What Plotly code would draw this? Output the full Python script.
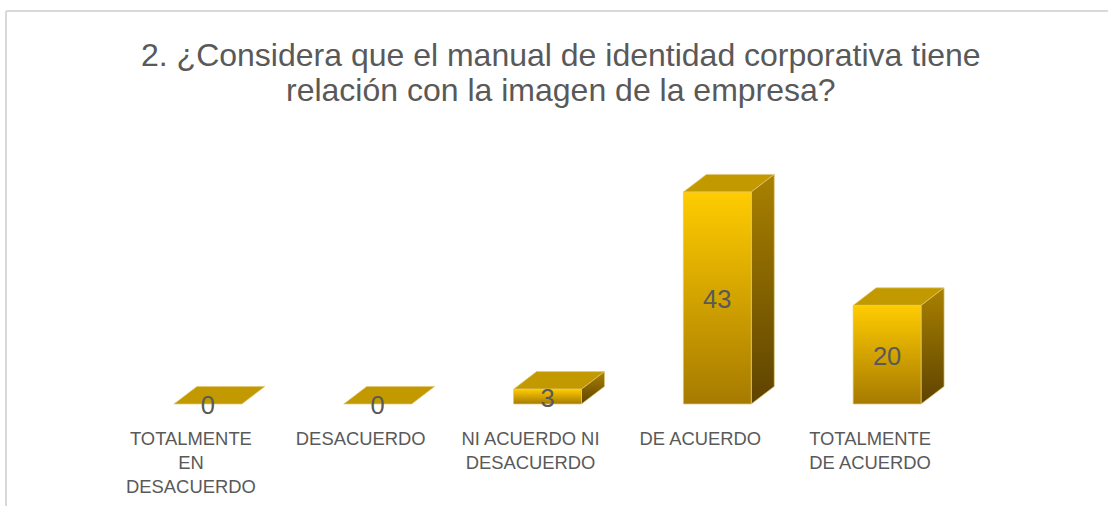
import plotly.graph_objects as go

# Values
categories = ["TOTALMENTE<br>EN<br>DESACUERDO", "DESACUERDO", "NI ACUERDO NI<br>DESACUERDO",
              "DE ACUERDO", "TOTALMENTE<br>DE ACUERDO"]
values = [0, 0, 3, 43, 20]
title_lines = ["2. ¿Considera que el manual de identidad corporativa tiene",
               "relación con la imagen de la empresa?"]

W, H = 1108, 506
TEXT = "#595959"
FONT = "Liberation Sans, Arial, sans-serif"
EDGE = "rgba(226,200,120,0.7)"

# Fake 3D look: half width of the front face and depth of the box, in axis units
half = 0.2
dx, dy = 0.1355, 3.57
label_drop = 0.8  # data labels sit a little under the centre of the front face
tick_shift = -0.1  # category labels sit left of the boxes, as on a 3D floor

# Plot area in pixels
left, right, top, bottom = 123, 972, 150, 426
ymax = (404 - top) / 4.93
ymin = (404 - bottom) / 4.93


def face(xs, ys, stops=None, solid=None):
    kw = dict(fillgradient=dict(type="vertical", colorscale=stops)) if stops else dict(fillcolor=solid)
    return go.Scatter(x=xs, y=ys, mode="lines", fill="toself", line=dict(color=EDGE, width=1),
                      hoverinfo="skip", showlegend=False, **kw)


fig = go.Figure()
for i, v in enumerate(values):
    x0, x1 = i - half, i + half
    # top of the box
    fig.add_trace(face([x0, x1, x1 + dx, x0 + dx, x0], [v, v, v + dy, v + dy, v], solid="#C29A00"))
    if v > 0:
        # side and front
        fig.add_trace(face([x1, x1 + dx, x1 + dx, x1, x1], [0, dy, v + dy, v, 0],
                           stops=[[0, "#5E4300"], [1, "#A98100"]]))
        fig.add_trace(face([x0, x1, x1, x0, x0], [0, 0, v, v, 0],
                           stops=[[0, "#A67A00"], [1, "#FFCC00"]]))

fig.add_trace(go.Scatter(x=list(range(len(values))), y=[v / 2 - label_drop for v in values], mode="text",
                         text=[str(v) for v in values], textposition="middle center",
                         textfont=dict(size=25.5, color=TEXT, family=FONT),
                         hoverinfo="skip", showlegend=False))

# Chart frame: only the top and left edges are visible in the crop
frame_x = (6 - left) / (right - left)
frame_y = (bottom - 11) / (bottom - top)
line = dict(color="#D9D9D9", width=2)
fig.add_shape(type="line", xref="paper", yref="paper", x0=frame_x, x1=(W - left) / (right - left),
              y0=frame_y, y1=frame_y, line=line)
fig.add_shape(type="line", xref="paper", yref="paper", x0=frame_x, x1=frame_x,
              y0=(bottom - H) / (bottom - top), y1=frame_y, line=line)

# Two annotations, the title's line gap is tighter than plotly's own
for text, py in zip(title_lines, [55, 90]):
    fig.add_annotation(text=text, xref="paper", yref="paper", x=(561 - left) / (right - left),
                       y=(bottom - py) / (bottom - top), xanchor="center", yanchor="middle", showarrow=False,
                       font=dict(size=32, color=TEXT, family=FONT))

fig.update_layout(
    width=W, height=H, autosize=False,
    margin=dict(l=left, r=W - right, t=top, b=H - bottom),
    paper_bgcolor="white", plot_bgcolor="white",
    xaxis=dict(range=[-0.5, 4.5], tickmode="array", tickvals=[i + tick_shift for i in range(len(values))],
               ticktext=categories, tickfont=dict(size=18.4, color=TEXT, family=FONT), showgrid=False,
               zeroline=False, showline=False, ticks="", automargin=False),
    yaxis=dict(range=[ymin, ymax], visible=False, showgrid=False, zeroline=False),
)

# the page has a default 8px body margin, drop it so the figure fills the window
fig.write_html("out.html", config=dict(displayModeBar=False),
               post_script="document.body.style.margin='0';document.body.style.overflow='hidden';")
